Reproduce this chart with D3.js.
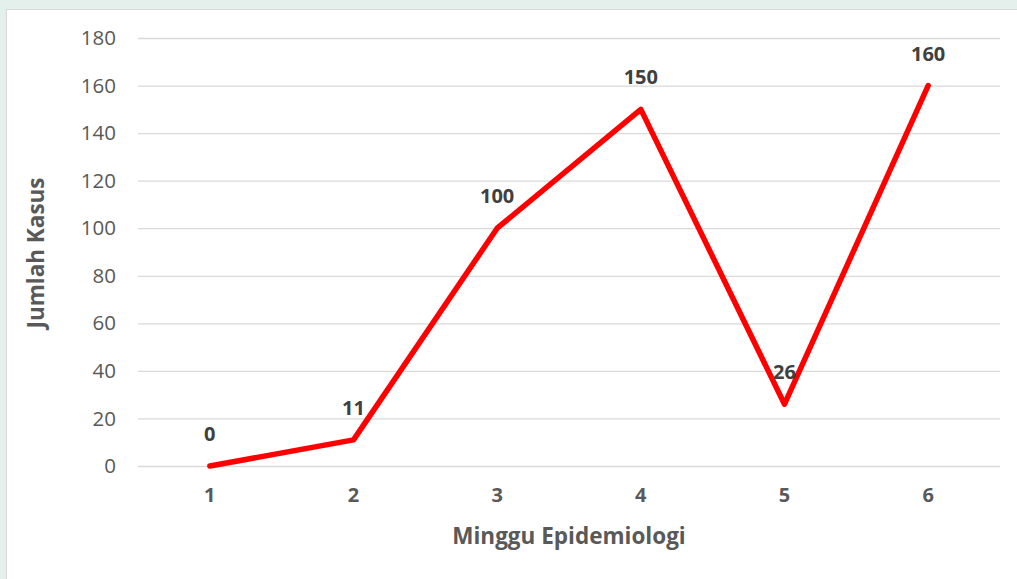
<!DOCTYPE html>
<html><head><meta charset="utf-8">
<script src="https://cdn.jsdelivr.net/npm/d3@7"></script>
<style>body{margin:0;background:#e3f0ec;} svg{display:block;}</style>
</head><body>
<svg id="c" width="1017" height="579"></svg>
<script>
const categories = ["1","2","3","4","5","6"];
const values = [0, 11, 100, 150, 26, 160];
const yTicks = [0,20,40,60,80,100,120,140,160,180];
const xTitle = "Minggu Epidemiologi";
const yTitle = "Jumlah Kasus";

const svg = d3.select("#c");
const font = "'Open Sans', sans-serif";
svg.append("rect").attr("x",6.5).attr("y",9.5).attr("width",1020).attr("height",580)
  .attr("fill","#fff").attr("stroke","#d9d9d9");

const L=138, R=1000, T=38, B=466;
const x = d3.scaleBand().domain(categories).range([L,R]);
const y = d3.scaleLinear().domain([0,180]).range([B,T]);

const ya = svg.append("g").attr("transform",`translate(${L},0)`)
  .call(d3.axisLeft(y).tickValues(yTicks).tickSize(-(R-L)).tickPadding(22));
ya.select(".domain").remove();
ya.selectAll("line").attr("stroke","#d9d9d9").attr("stroke-width",1.3);
ya.selectAll("text").attr("fill","#595959").attr("font-family",font).attr("font-size",20.5);

const xa = svg.append("g").attr("transform",`translate(0,${B})`)
  .call(d3.axisBottom(x).tickSize(0).tickPadding(22));
xa.select(".domain").remove();
xa.selectAll("text").attr("fill","#595959").attr("font-family",font).attr("font-size",20).attr("font-weight","bold");

const cx = d => x(d)+x.bandwidth()/2;
const line = d3.line().x((d,i)=>cx(categories[i])).y(d=>y(d));
svg.append("path").datum(values).attr("d",line).attr("fill","none")
  .attr("stroke","#ff0000").attr("stroke-width",5.5).attr("stroke-linejoin","round").attr("stroke-linecap","round");

svg.selectAll(".lbl").data(values).enter().append("text")
  .attr("x",(d,i)=>cx(categories[i])).attr("y",d=>y(d)-25)
  .attr("text-anchor","middle").attr("fill","#404040").attr("font-family",font)
  .attr("font-size",20).attr("font-weight","bold").text(d=>d);

svg.append("text").attr("x",569).attr("y",544).attr("text-anchor","middle")
  .attr("fill","#595959").attr("font-family",font).attr("font-size",22.5).attr("font-weight","bold").text(xTitle);
svg.append("text").attr("transform",`translate(44,253) rotate(-90)`).attr("text-anchor","middle")
  .attr("fill","#595959").attr("font-family",font).attr("font-size",22.5).attr("font-weight","bold").text(yTitle);
</script>
</body></html>
